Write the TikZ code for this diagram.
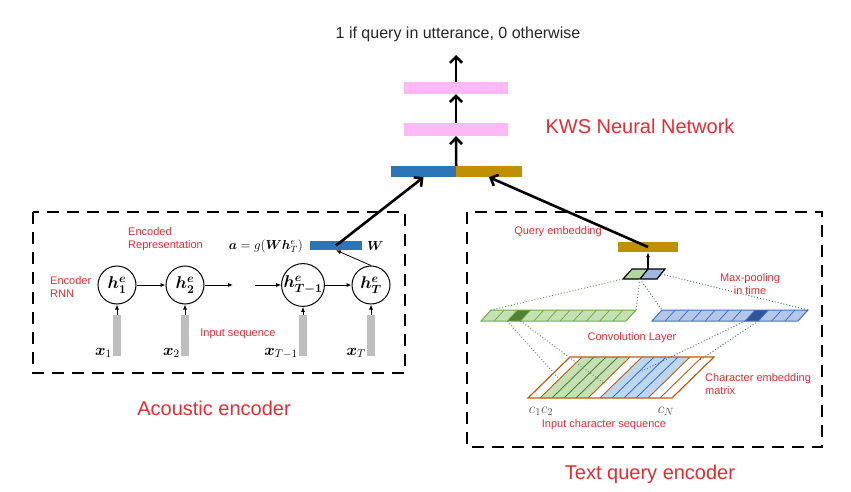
\RequirePackage{fix-cm}
\documentclass[tikz,border=0pt]{standalone}
\usepackage[no-math]{fontspec}
\setmainfont{Liberation Sans}
\usepackage{amsmath,bm}
\usetikzlibrary{arrows.meta}
\definecolor{kwsred}{RGB}{232,42,50}
\definecolor{kwsblue}{RGB}{46,117,182}
\definecolor{kwsgold}{RGB}{191,144,0}
\definecolor{kwspink}{RGB}{255,185,245}
\definecolor{inputgray}{RGB}{191,191,191}
\definecolor{textgray}{RGB}{38,38,38}
\definecolor{greenlight}{RGB}{197,224,180}
\definecolor{greendark}{RGB}{84,130,53}
\definecolor{greenline}{RGB}{112,173,71}
\definecolor{bluelight}{RGB}{180,199,231}
\definecolor{bluedark}{RGB}{47,85,151}
\definecolor{blueline}{RGB}{68,114,196}
\definecolor{bluepale}{RGB}{189,215,238}
\definecolor{matbrown}{RGB}{197,90,17}
\definecolor{gdotcol}{RGB}{120,150,110}
\definecolor{bdotcol}{RGB}{90,110,160}
\begin{document}
\begin{tikzpicture}[x=1pt,y=-1pt,
    bar/.style={rectangle,draw=none,inner sep=0pt,minimum height=11pt},
    rnncell/.style={circle,draw,line width=1pt,minimum size=38pt,inner sep=0pt,font=\fontsize{17}{19}\selectfont},
    inbar/.style={rectangle,fill=inputgray,inner sep=0pt,minimum width=8pt,minimum height=41pt},
    xlab/.style={inner sep=0pt,anchor=base east,font=\fontsize{16}{18}\selectfont},
    redlabel/.style={text=kwsred,font=\fontsize{11}{13}\selectfont,align=left,inner sep=0pt},
    biglabel/.style={text=kwsred,font=\fontsize{20}{24}\selectfont,inner sep=0pt},
    thickarrow/.style={-{Straight Barb[length=6pt,width=12pt]},line width=2.6pt},
    thinarrow/.style={-{Latex[length=5pt,width=4pt]},line width=0.8pt},
    encbox/.style={dash pattern=on 12pt off 8pt,line width=2.5pt},
    gdot/.style={dotted,line width=1pt,draw=gdotcol},
    bdot/.style={dotted,line width=1pt,draw=bdotcol}]
    \useasboundingbox (0,0) rectangle (851,492);

    % KWS network %
    \node[font=\fontsize{16}{19}\selectfont,text=textgray] (out) at (458,34) {1 if query in utterance, 0 otherwise};
    \coordinate (outtip) at (456,55);
    \node[bar,fill=kwspink,minimum width=104pt,minimum height=12pt] (pink1) at (456,88) {};
    \node[bar,fill=kwspink,minimum width=104pt,minimum height=13pt] (pink2) at (456,129.5) {};
    \node[bar,fill=kwsblue,minimum width=65pt] (catblue) at (423.5,171.5) {};
    \node[bar,fill=kwsgold,minimum width=66pt] (catgold) at (489,171.5) {};
    \draw[thickarrow] (catblue.north east) -- (pink2.south);
    \draw[thickarrow] (pink2.north) -- (pink1.south);
    \draw[thickarrow] (pink1.north) -- (outtip);
    \node[biglabel] (kwslab) at (640,126) {KWS Neural Network};

    % Acoustic encoder %
    \draw[encbox] (33,212) rectangle (405,373);
    \node[rnncell] (h1) at (117,285) {$\bm{h_1^e}$};
    \node[rnncell] (h2) at (185,285) {$\bm{h_2^e}$};
    \node[rnncell] (hT1) at (303,285) {$\bm{h_{T-1}^e}$};
    \node[rnncell] (hT) at (371,285) {$\bm{h_T^e}$};
    \coordinate (dotsL) at (233,285);
    \coordinate (dotsR) at (255,285);
    \draw[thinarrow] (h1) -- (h2);
    \draw[thinarrow] (h2) -- (dotsL);
    \draw[thinarrow] (dotsR) -- (hT1);
    \draw[thinarrow] (hT1) -- (hT);
    \node[inbar] (x1bar) at (117,335.5) {};
    \node[inbar] (x2bar) at (185,335.5) {};
    \node[inbar] (xT1bar) at (303,335.5) {};
    \node[inbar] (xTbar) at (371,335.5) {};
    \draw[thinarrow] (x1bar.north) -- (h1.south);
    \draw[thinarrow] (x2bar.north) -- (h2.south);
    \draw[thinarrow] (xT1bar.north) -- (hT1.south);
    \draw[thinarrow] (xTbar.north) -- (hT.south);
    \node[xlab] (x1) at (112,355) {$\bm{x}_1$};
    \node[xlab] (x2) at (180,355) {$\bm{x}_2$};
    \node[xlab] (xT1) at (298,355) {$\bm{x}_{T-1}$};
    \node[xlab] (xT) at (366,355) {$\bm{x}_T$};
    \node[bar,fill=kwsblue,minimum width=52pt,minimum height=9pt] (wbar) at (336,245.5) {};
    \node[inner sep=0pt,anchor=west,font=\fontsize{13}{15}\selectfont] (wlab) at (367,246) {$\bm{W}$};
    \node[inner sep=0pt,anchor=east,font=\fontsize{13}{15}\selectfont] (eqn) at (303,246) {$\bm{a}=g(\bm{W}\bm{h}_T^e)$};
    \draw[thinarrow] (hT.north) -- (wbar.south);
    \draw[thickarrow] (wbar.center) -- (catblue.south);
    \node[redlabel,anchor=west] (rnnlab) at (50,287) {Encoder\\RNN};
    \node[redlabel,anchor=west] (enclab) at (128,239) {Encoded\\Representation};
    \node[redlabel] (inslab) at (238,334) {Input sequence};
    \node[biglabel] (aclab) at (214,408) {Acoustic encoder};

    % Text query encoder %
    \draw[encbox] (467,212) rectangle (822,447);
    \node[bar,fill=kwsgold,minimum width=60pt,minimum height=10pt] (qemb) at (648,247) {};
    \draw[thickarrow] (qemb.center) -- (catgold.south);
    % max-pooled cell
    \coordinate (pbl) at (623,279); \coordinate (ptl) at (632,269);
    \coordinate (ptr) at (665,269); \coordinate (pbr) at (657,279);
    \coordinate (ptm) at (648,269); \coordinate (pbm) at (640,279);
    \coordinate (prm) at (661,274);
    \fill[greenlight!80!greenline] (pbl) -- (ptl) -- (ptm) -- (pbm) -- cycle;
    \fill[bluelight!80!blueline] (pbm) -- (ptm) -- (ptr) -- (pbr) -- cycle;
    \draw[line width=1.2pt] (pbl) -- (ptl) -- (ptr) -- (pbr) -- cycle (ptm) -- (pbm);
    \draw[thinarrow,line width=1.2pt] (ptm) -- (qemb.south);
    % feature maps
    \coordinate (gbl) at (481,321); \coordinate (gtl) at (491,310);
    \coordinate (gtr) at (636,310); \coordinate (gbr) at (626,321);
    \coordinate (bbl) at (652,321); \coordinate (btl) at (662,310);
    \coordinate (btr) at (808,310); \coordinate (bbr) at (798,321);
    \fill[greenlight] (gbl) -- (gtl) -- (gtr) -- (gbr) -- cycle;
    \fill[greendark] (507.4,321) -- (517.4,310) -- (530.6,310) -- (520.6,321) -- cycle;
    \foreach \i in {1,...,10} \draw[greenline,line width=0.8pt] ({481+13.2*\i},321) -- ({491+13.2*\i},310);
    \draw[greenline,line width=1pt] (gbl) -- (gtl) -- (gtr) -- (gbr) -- cycle;
    \fill[bluelight] (bbl) -- (btl) -- (btr) -- (bbr) -- cycle;
    \fill[bluedark] (745.1,321) -- (755.1,310) -- (768.4,310) -- (758.4,321) -- cycle;
    \foreach \i in {1,...,10} \draw[blueline,line width=0.8pt] ({652+13.3*\i},321) -- ({662+13.3*\i},310);
    \draw[blueline,line width=1pt] (bbl) -- (btl) -- (btr) -- (bbr) -- cycle;
    \draw[gdot] (pbl) -- (gtl);
    \draw[gdot] (pbm) -- (gtr);
    \draw[bdot] (pbm) -- (btl);
    \draw[bdot] (prm) -- (btr);
    % character embedding matrix
    \fill[greenlight] (540,398) -- (582,357) -- (630,357) -- (588,398) -- cycle;
    \fill[bluepale] (600,398) -- (642,357) -- (690,357) -- (648,398) -- cycle;
    \foreach \i/\c in {1/matbrown,2/greendark,3/greendark,4/greendark,5/matbrown,6/matbrown,7/blueline,8/blueline,9/blueline,10/matbrown,11/matbrown}
        \draw[\c,line width=0.9pt] ({528+12*\i},398) -- ({570+12*\i},357);
    \draw[matbrown,line width=1.2pt] (528,398) -- (570,357) -- (714,357) -- (672,398) -- cycle;
    \coordinate (gend1) at (560,380); \coordinate (gend2) at (605,384);
    \coordinate (bend1) at (640,372); \coordinate (bend2) at (700,360);
    \draw[gdot] (507.4,321) -- (gend1);
    \draw[gdot] (520.6,321) -- (gend2);
    \draw[bdot] (745.1,321) -- (bend1);
    \draw[bdot] (758.4,321) -- (bend2);
    \node[inner sep=0pt,text=textgray!80,font=\fontsize{15}{17}\selectfont] (c12) at (541,411) {$c_1c_2$};
    \node[inner sep=0pt,text=textgray!80,font=\fontsize{15}{17}\selectfont] (cN) at (666,411) {$c_N$};
    \node[redlabel] (qlab) at (558,232) {Query embedding};
    \node[redlabel,align=center] (mplab) at (750,284) {Max-pooling\\in time};
    \node[redlabel] (convlab) at (632,338) {Convolution Layer};
    \node[redlabel,anchor=west] (cemlab) at (705,384) {Character embedding\\matrix};
    \node[redlabel] (inclab) at (604,425) {Input character sequence};
    \node[biglabel] (txtlab) at (650,474) {Text query encoder};
\end{tikzpicture}
\end{document}
